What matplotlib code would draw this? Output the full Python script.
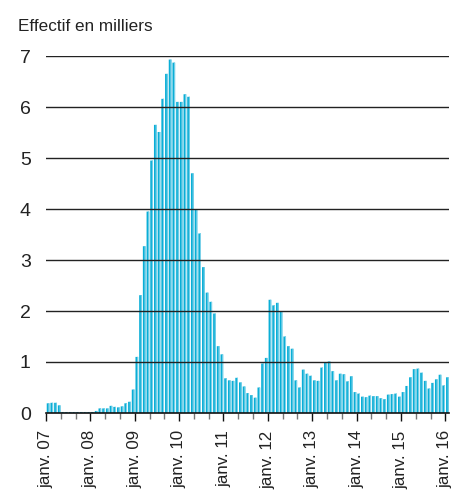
import matplotlib.pyplot as plt
from matplotlib.ticker import MultipleLocator

# monthly headcount (thousands), janv. 2007 -> janv. 2016
y2007 = [0.19, 0.2, 0.2, 0.15, 0.02, 0.02, 0.02, 0.02, 0.02, 0.02, 0.02, 0.02]
y2008 = [0.02, 0.04, 0.09, 0.09, 0.09, 0.14, 0.12, 0.11, 0.13, 0.19, 0.22, 0.46]
y2009 = [1.1, 2.31, 3.27, 3.95, 4.95, 5.65, 5.51, 6.16, 6.65, 6.93, 6.87, 6.1]
y2010 = [6.1, 6.25, 6.2, 4.7, 4.0, 3.52, 2.86, 2.36, 2.18, 1.95, 1.31, 1.15]
y2011 = [0.68, 0.64, 0.63, 0.69, 0.6, 0.52, 0.39, 0.35, 0.3, 0.5, 0.97, 1.08]
y2012 = [2.22, 2.11, 2.16, 2.0, 1.5, 1.31, 1.26, 0.64, 0.5, 0.85, 0.77, 0.73]
y2013 = [0.64, 0.63, 0.89, 0.99, 1.01, 0.82, 0.64, 0.77, 0.76, 0.62, 0.72, 0.41]
y2014 = [0.38, 0.32, 0.31, 0.34, 0.33, 0.33, 0.29, 0.27, 0.36, 0.37, 0.38, 0.32]
y2015 = [0.41, 0.53, 0.7, 0.86, 0.87, 0.79, 0.63, 0.48, 0.59, 0.66, 0.75, 0.54]
y2016 = [0.7]

values = y2007 + y2008 + y2009 + y2010 + y2011 + y2012 + y2013 + y2014 + y2015 + y2016
year_labels = ["janv. 07", "janv. 08", "janv. 09", "janv. 10", "janv. 11",
               "janv. 12", "janv. 13", "janv. 14", "janv. 15", "janv. 16"]
y_ticks = [0, 1, 2, 3, 4, 5, 6, 7]

plt.rcParams['font.family'] = ['Liberation Sans', 'DejaVu Sans']

fig = plt.figure(figsize=(4.54, 4.92), dpi=100)
ax = fig.add_axes([46 / 454, 1 - 413 / 492, 403 / 454, 357 / 492])

months = range(len(values))
# main bar plus a lighter strip on its right side
ax.bar([m + 0.2 for m in months], values, width=0.72, align='edge',
       color='#0aaed6', linewidth=0, zorder=2, snap=False)
ax.bar([m + 0.64 for m in months], values, width=0.28, align='edge',
       color='#7dd2ea', linewidth=0, zorder=2, snap=False)

for v in y_ticks[1:]:
    ax.axhline(v, color='#222222', linewidth=1, zorder=3)

ax.set_xlim(0, len(values))
ax.set_ylim(0, 7)
ax.set_yticks(y_ticks)
ax.set_xticks(range(0, len(values), 12))
ax.set_xticklabels(year_labels, rotation=90, va='top')
ax.xaxis.set_minor_locator(MultipleLocator(4))

ax.tick_params(axis='y', length=0, pad=11, labelsize=14, labelcolor='#222222')
ax.tick_params(axis='x', which='major', length=5.5, width=1, color='#111111',
               pad=7, labelsize=12.2, labelcolor='#222222')
ax.tick_params(axis='x', which='minor', length=4, width=1, color='#777777')

for s in ['top', 'right', 'left']:
    ax.spines[s].set_visible(False)
ax.spines['bottom'].set_color('#111111')
ax.spines['bottom'].set_linewidth(1.2)
ax.spines['bottom'].set_zorder(4)

fig.text(18 / 454, 1 - 31 / 492, "Effectif en milliers", fontsize=12.3,
         color='#222222', va='baseline', ha='left')

fig.savefig('out.png', dpi=100)
